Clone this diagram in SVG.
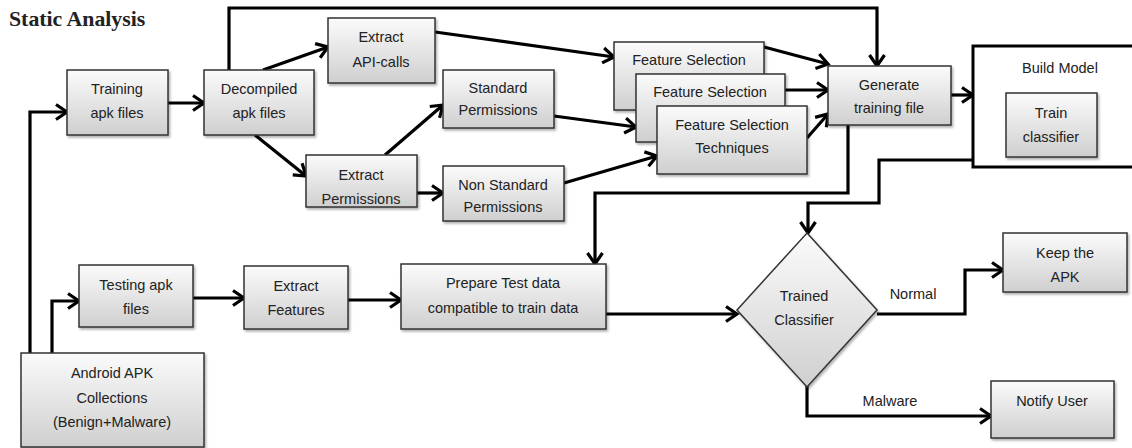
<svg xmlns="http://www.w3.org/2000/svg" width="1132" height="448" viewBox="0 0 1132 448">
<style>
.box{fill:url(#g);stroke:#333;stroke-width:1.5;filter:url(#sh)}
.t{font-family:"Liberation Sans",Arial,sans-serif;font-size:14.5px;fill:#222;text-anchor:middle}
.c{fill:none;stroke:#000;stroke-width:3.2;marker-end:url(#ah)}
</style>
<defs>
<linearGradient id="g" x1="0" y1="0" x2="0" y2="1">
<stop offset="0" stop-color="#fbfbfb"/><stop offset="1" stop-color="#cfcfcf"/>
</linearGradient>
<filter id="sh" x="-10%" y="-10%" width="130%" height="140%">
<feDropShadow dx="1.5" dy="2" stdDeviation="1.2" flood-color="#000" flood-opacity="0.3"/>
</filter>
<marker id="ah" markerUnits="userSpaceOnUse" markerWidth="20" markerHeight="20" refX="14" refY="10" orient="auto">
<path d="M3,2.5 L14,10 L3,17.5" fill="none" stroke="#000" stroke-width="3.2"/>
</marker>
</defs>
<rect width="1132" height="448" fill="#fff"/>
<text x="9" y="26" font-family="Liberation Serif,'Times New Roman',serif" font-weight="bold" font-size="21.8" fill="#222">Static Analysis</text>

<g id="connectors">
<path class="c" d="M30,353 V112 H67"/>
<path class="c" d="M52,353 V301 H79"/>
<path class="c" d="M168,103 H204"/>
<path class="c" d="M263,70 L328,47"/>
<path class="c" d="M255,135 L306,176"/>
<path class="c" d="M229,70 V8 H877 V66"/>
<path class="c" d="M435,32 L614,57"/>
<path class="c" d="M385,155 L443,105"/>
<path class="c" d="M554,116 L636,127"/>
<path class="c" d="M417,193 H443"/>
<path class="c" d="M564,183 L657,156"/>
<path class="c" d="M764,47 L828,64"/>
<path class="c" d="M785,90 H828"/>
<path class="c" d="M807,138 L828,114"/>
<path class="c" d="M951,95 H973"/>
<path class="c" d="M848,125 V193 H595 V264"/>
<path class="c" d="M973,160 H879 V203 H808 V233"/>
<path class="c" d="M193,298 H244"/>
<path class="c" d="M348,300 H401"/>
<path class="c" d="M606,314 H737"/>
<path class="c" d="M877,314 H965 V270 H1003"/>
<path class="c" d="M807,385 V416 H991"/>
<text class="t" x="913" y="299">Normal</text>
<text class="t" x="890" y="406">Malware</text>
</g>

<g id="training"><rect class="box" x="67" y="70" width="101" height="65"/>
<text class="t" x="117" y="94">Training</text><text class="t" x="117" y="118">apk files</text></g>
<g id="decompiled"><rect class="box" x="204" y="70" width="110" height="65"/>
<text class="t" x="259" y="94">Decompiled</text><text class="t" x="259" y="118">apk files</text></g>
<g id="api"><rect class="box" x="328" y="18" width="107" height="65"/>
<text class="t" x="381" y="42">Extract</text><text class="t" x="381" y="67">API-calls</text></g>
<g id="perm"><rect class="box" x="306" y="155" width="111" height="52"/>
<text class="t" x="361" y="180">Extract</text><text class="t" x="361" y="204">Permissions</text></g>
<g id="stdperm"><rect class="box" x="443" y="70" width="111" height="58"/>
<text class="t" x="498" y="93">Standard</text><text class="t" x="498" y="115">Permissions</text></g>
<g id="nonstd"><rect class="box" x="443" y="166" width="121" height="55"/>
<text class="t" x="503" y="190">Non Standard</text><text class="t" x="503" y="212">Permissions</text></g>
<g id="fs1"><rect class="box" x="614" y="42" width="150" height="68"/>
<text class="t" x="689" y="65">Feature Selection</text></g>
<g id="fs2"><rect class="box" x="636" y="74" width="149" height="68"/>
<text class="t" x="710" y="97">Feature Selection</text></g>
<g id="fs3"><rect class="box" x="657" y="106" width="150" height="68"/>
<text class="t" x="732" y="130">Feature Selection</text><text class="t" x="732" y="153">Techniques</text></g>
<g id="generate"><rect class="box" x="828" y="66" width="123" height="59"/>
<text class="t" x="889" y="90">Generate</text><text class="t" x="889" y="113">training file</text></g>
<g id="buildmodel"><rect x="973" y="46" width="170" height="121" fill="#fff" stroke="#000" stroke-width="3"/>
<text class="t" x="1060" y="73">Build Model</text>
<rect class="box" x="1006" y="93" width="91" height="64"/>
<text class="t" x="1051" y="118">Train</text><text class="t" x="1051" y="142">classifier</text></g>
<g id="testing"><rect class="box" x="79" y="265" width="114" height="62"/>
<text class="t" x="136" y="290">Testing apk</text><text class="t" x="136" y="314">files</text></g>
<g id="extractfeat"><rect class="box" x="244" y="266" width="104" height="63"/>
<text class="t" x="296" y="291">Extract</text><text class="t" x="296" y="315">Features</text></g>
<g id="android"><rect class="box" x="21" y="353" width="183" height="94"/>
<text class="t" x="112" y="378">Android APK</text><text class="t" x="112" y="403">Collections</text><text class="t" x="112" y="427">(Benign+Malware)</text></g>
<g id="prepare"><rect class="box" x="401" y="264" width="205" height="65"/>
<text class="t" x="503" y="288">Prepare Test data</text><text class="t" x="503" y="313">compatible to train data</text></g>
<g id="classifier"><polygon class="box" points="807,233 877,310 807,387 737,310"/>
<text class="t" x="804" y="301">Trained</text><text class="t" x="804" y="325">Classifier</text></g>
<g id="keep"><rect class="box" x="1003" y="233" width="124" height="59"/>
<text class="t" x="1065" y="258">Keep the</text><text class="t" x="1065" y="282">APK</text></g>
<g id="notify"><rect class="box" x="991" y="381" width="123" height="57"/>
<text class="t" x="1052" y="406">Notify User</text></g>
</svg>
